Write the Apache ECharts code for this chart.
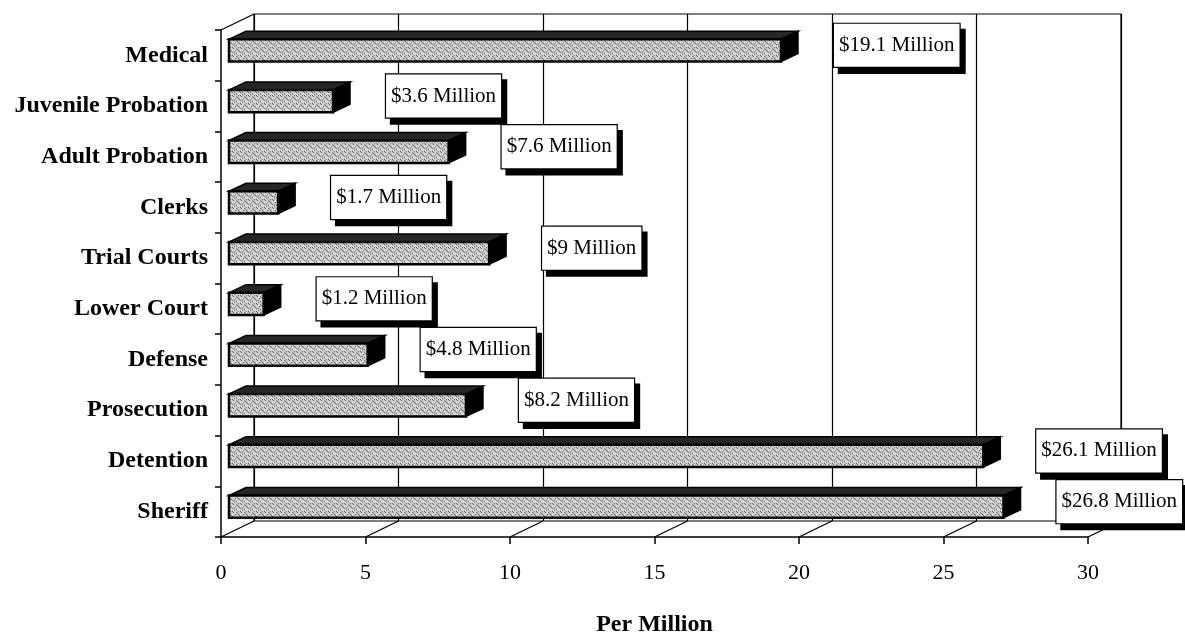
<!DOCTYPE html>
<html><head><meta charset="utf-8">
<script src="https://cdn.jsdelivr.net/npm/echarts/dist/echarts.min.js"></script>
<style>html,body{margin:0;padding:0;background:#fff}#c{width:1185px;height:635px}</style>
</head><body><div id="c"></div>
<script>
const categories = ['Medical','Juvenile Probation','Adult Probation','Clerks','Trial Courts','Lower Court','Defense','Prosecution','Detention','Sheriff'];
const values = [19.1, 3.6, 7.6, 1.7, 9, 1.2, 4.8, 8.2, 26.1, 26.8];
const valueLabels = ['$19.1 Million','$3.6 Million','$7.6 Million','$1.7 Million','$9 Million','$1.2 Million','$4.8 Million','$8.2 Million','$26.1 Million','$26.8 Million'];
const xTicks = [0, 5, 10, 15, 20, 25, 30];

const SERIF = '"Liberation Serif","Times New Roman",serif';

// stipple texture for bar faces (fixed pattern)
const pc = document.createElement('canvas');
pc.width = 8; pc.height = 8;
const g = pc.getContext('2d');
g.fillStyle = '#c8c8c8'; g.fillRect(0,0,8,8);
g.fillStyle = '#6a6a6a';
[[1,0],[5,1],[3,2],[7,3],[0,4],[4,5],[2,6],[6,7],[6,2],[2,4],[4,0],[0,7]].forEach(p => g.fillRect(p[0],p[1],1,1));
g.fillStyle = '#efefef';
[[3,0],[0,2],[5,4],[1,6],[7,5],[2,1],[6,6]].forEach(p => g.fillRect(p[0],p[1],1,1));
const stipple = {image: pc, repeat: 'repeat'};

const barData = values.map((v, i) => [v, i]);
const DEPTH_X = 33, DEPTH_Y = -16;

function renderFrame(params, api) {
  const cs = params.coordSys;
  const yb = cs.y + cs.height, yt = cs.y;
  const ch = [];
  xTicks.forEach(t => {
    const x = api.coord([t, 0])[0];
    ch.push({type: 'line', shape: {x1: x, y1: yb, x2: x + DEPTH_X, y2: yb + DEPTH_Y}, style: {stroke: '#000', lineWidth: 1.2}});
  });
  ch.push({type: 'line', shape: {x1: cs.x, y1: yt, x2: cs.x + DEPTH_X, y2: yt + DEPTH_Y}, style: {stroke: '#000', lineWidth: 1.2}});
  return {type: 'group', children: ch};
}

function renderBar(params, api) {
  const v = api.value(0), ci = api.value(1);
  const p0 = api.coord([0, ci]);
  const p1 = api.coord([v, ci]);
  const band = api.size([0, 1])[1];
  const h = band * 0.44;
  const sx = 8, sy = -5, dx = 17, dy = -8;
  const x0 = p0[0] + sx, x1 = p1[0] + sx;
  const yc = p0[1] + sy, yt = yc - h / 2, yb = yc + h / 2;
  return {type: 'group', children: [
    {type: 'polygon', shape: {points: [[x0, yt], [x1, yt], [x1 + dx, yt + dy], [x0 + dx, yt + dy]]}, style: {fill: '#262626', stroke: '#000', lineWidth: 1.5}},
    {type: 'polygon', shape: {points: [[x1, yt], [x1 + dx, yt + dy], [x1 + dx, yb + dy], [x1, yb]]}, style: {fill: '#000', stroke: '#000', lineWidth: 1.5}},
    {type: 'rect', shape: {x: x0, y: yt, width: x1 - x0, height: h}, style: {fill: stipple, stroke: '#000', lineWidth: 2.5}}
  ]};
}

function renderLabel(params, api) {
  const v = api.value(0), ci = api.value(1);
  const p = api.coord([v, ci]);
  return {type: 'text', x: p[0] + 8 + 53, y: p[1] - 10, style: {
    text: valueLabels[params.dataIndex], font: '21px ' + SERIF, fill: '#000',
    align: 'left', verticalAlign: 'middle', lineHeight: 25,
    backgroundColor: '#fff', borderColor: '#000', borderWidth: 1.2, padding: [9, 5, 9, 5],
    shadowColor: '#000', shadowOffsetX: 5, shadowOffsetY: 6, shadowBlur: 0
  }};
}

const chart = echarts.init(document.getElementById('c'), null, {renderer: 'canvas'});
chart.setOption({
  animation: false,
  backgroundColor: '#fff',
  grid: [
    {left: 221, top: 30, width: 867, height: 507, containLabel: false, outerBoundsMode: 'none'},
    {left: 221 + DEPTH_X, top: 30 + DEPTH_Y, width: 867, height: 507, show: true, borderColor: '#000', borderWidth: 1.2, containLabel: false, outerBoundsMode: 'none'}
  ],
  xAxis: [
    {type: 'value', gridIndex: 0, min: 0, max: 30, interval: 5,
      name: 'Per Million', nameLocation: 'middle', nameGap: 76,
      nameTextStyle: {fontFamily: SERIF, fontWeight: 'bold', fontSize: 24, color: '#000'},
      axisLine: {show: true, lineStyle: {color: '#000', width: 1.5}},
      axisTick: {show: true, length: 7, lineStyle: {color: '#000', width: 1.5}},
      axisLabel: {fontFamily: SERIF, fontSize: 22, color: '#000', margin: 25},
      splitLine: {show: false}},
    {type: 'value', gridIndex: 1, min: 0, max: 30, interval: 5,
      axisLine: {show: false}, axisTick: {show: false}, axisLabel: {show: false},
      splitLine: {show: true, lineStyle: {color: '#000', width: 1.2}}}
  ],
  yAxis: [
    {type: 'category', gridIndex: 0, data: categories, inverse: true,
      axisLine: {show: true, lineStyle: {color: '#000', width: 1.5}},
      axisTick: {show: true, length: 6, lineStyle: {color: '#000', width: 1.5}},
      axisLabel: {fontFamily: SERIF, fontWeight: 'bold', fontSize: 24, color: '#000', margin: 13},
      splitLine: {show: false}},
    {type: 'category', gridIndex: 1, data: categories, inverse: true,
      axisLine: {show: false}, axisTick: {show: false}, axisLabel: {show: false}, splitLine: {show: false}}
  ],
  series: [
    {type: 'custom', xAxisIndex: 0, yAxisIndex: 0, data: [[0, 0]], renderItem: renderFrame, z: 2, silent: true},
    {type: 'custom', xAxisIndex: 0, yAxisIndex: 0, data: barData, renderItem: renderBar, z: 3, silent: true},
    {type: 'custom', xAxisIndex: 0, yAxisIndex: 0, data: barData, renderItem: renderLabel, z: 5, silent: true}
  ]
});
</script>
</body></html>
